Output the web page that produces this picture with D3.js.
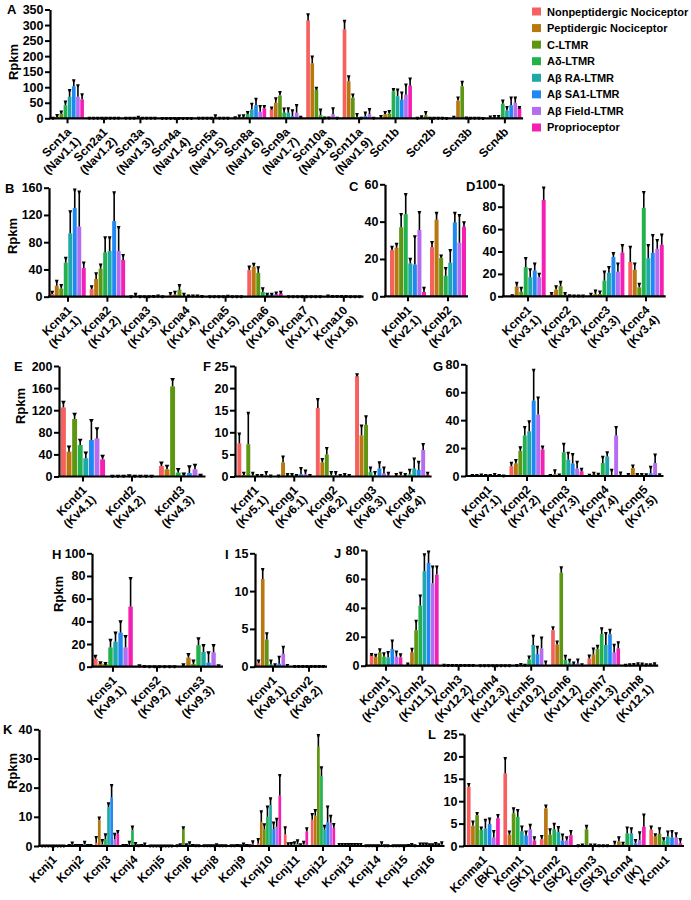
<!DOCTYPE html>
<html><head><meta charset="utf-8">
<script src="https://cdn.jsdelivr.net/npm/d3@7"></script>
<style>
body{margin:0;background:#fff;}
svg{display:block;font-family:"Liberation Sans",Arial,sans-serif;font-weight:bold;}
</style></head><body>
<svg id="chart" width="691" height="900"></svg>
<script>
const cellTypes = ["Nonpeptidergic Nociceptor","Peptidergic Nociceptor","C-LTMR","Aδ-LTMR","Aβ RA-LTMR","Aβ SA1-LTMR","Aβ Field-LTMR","Proprioceptor"];
const cellColors = ["#F6605E","#B8770F","#5E9613","#23B14D","#1EA8A8","#1F88F2","#B56CF0","#F41FB3"];

// Panel A – sodium channels
const aGenes = ["Scn1a","Scn2a1","Scn3a","Scn4a","Scn5a","Scn8a","Scn9a","Scn10a","Scn11a","Scn1b","Scn2b","Scn3b","Scn4b"];
const aAliases = ["(Nav1.1)","(Nav1.2)","(Nav1.3)","(Nav1.4)","(Nav1.5)","(Nav1.6)","(Nav1.7)","(Nav1.8)","(Nav1.9)","","","",""];
const aMeans = [[0.5,5,15,42,69,103,69,61],[1,1,1,1,1,1,1,1],[0.5,1,0.5,1,1,0.5,0.5,0.5],[0.3,0.3,0.3,0.3,0.3,0.3,0.3,0.3],[0.5,0.5,1,1,3,1,0.5,0.5],[1,3,4,13,28,42,21,32],[29,50,73,18,18,7,18,2],[315,177,92,10,0.5,1,13,1],[286,119,66,4,0.5,7,13,1],[1,13,15,87,71,60,76,105],[0.5,2,10,1,0.5,0.5,0.5,0.3],[0.5,57,103,1,1,0.5,0.5,0.3],[2,3,3,47,25,42,50,34]];
const aSem = [[0.5,5,6,11,21,19,37,16],[0.5,0.5,0.5,0.5,0.5,0.5,0.5,0.5],[0.3,0.5,0.3,3,0.5,0.3,0.3,0.3],[0.2,0.2,0.2,0.2,0.2,0.2,0.2,0.2],[0.3,0.3,0.5,0.5,6,0.5,0.3,0.3],[2,5,5,7,18,20,18,7],[5,14,11,13,14,18,24,2],[19,21,6,18,1.5,1,19,0.5],[27,16,10,9,0.5,11,16,0.5],[6,7,8,7,21,22,32,22],[0.3,4,10,0.5,0.3,0.3,0.3,0.3],[4,9,14,1,0.5,0.3,0.3,0.3],[3,4,4,10,11,24,16,2]];
const aTicks = [0,50,100,150,200,250,300,350];

// Panel B – Kv1
const bGenes = ["Kcna1","Kcna2","Kcna3","Kcna4","Kcna5","Kcna6","Kcna7","Kcna10"];
const bAliases = ["(Kv1.1)","(Kv1.2)","(Kv1.3)","(Kv1.4)","(Kv1.5)","(Kv1.6)","(Kv1.7)","(Kv1.8)"];
const bMeans = [[4,16,12,50,93,130,103,42],[11,26,41,65,67,111,67,54],[0.3,1,0.3,0.3,0.3,0.5,0.5,0.3],[2,3,10,1,1,1,1,0.5],[0.3,0.3,0.3,0.3,0.5,0.3,0.3,0.3],[39,44,35,7,3,3,4,5],[0.3,0.3,0.3,0.3,0.3,0.3,0.3,0.3],[1,0.5,0.5,0.5,0.5,0.3,0.3,0.3]];
const bSem = [[3,7,5,7,32,27,51,8],[4,8,6,22,20,42,35,7],[0.2,3,0.2,0.2,0.2,0.3,1,0.2],[3,4,7,3,0.5,0.5,0.5,0.3],[0.2,0.2,0.2,0.2,0.5,0.2,0.2,0.2],[5,4,8,5,1,1,2,2],[0.2,0.2,0.2,0.2,0.2,0.2,0.2,0.2],[0.5,0.3,0.3,0.3,0.3,0.2,0.2,0.2]];
const bTicks = [0,40,80,120,160];

// Panel C – Kv2
const cGenes = ["Kcnb1","Kcnb2"];
const cAliases = ["(Kv2.1)","(Kv2.2)"];
const cMeans = [[24.7,26,37,44,17.6,17,35.5,2.3],[26.3,41,20.6,11,18,39.6,28.7,37.3]];
const cSem = [[1.8,2,7,10.7,2.4,15,9.5,2.2],[2.7,3.6,1.1,4,6.7,5,14.8,2.3]];
const cTicks = [0,20,40,60];

// Panel D – Kv3
const dGenes = ["Kcnc1","Kcnc2","Kcnc3","Kcnc4"];
const dAliases = ["(Kv3.1)","(Kv3.2)","(Kv3.3)","(Kv3.4)"];
const dMeans = [[0.5,8.7,4,26,17,23,17,86],[2,6,9,1.5,0.5,0.3,0.3,0.3],[1,2,2,14,21,35,22,39],[30.7,23.6,8,79,34,38.8,42.4,46]];
const dSem = [[0.3,3.3,3.5,8,7,6,3,11],[0.7,2.7,3.8,1.2,0.3,0.2,0.2,0.2],[1,3,2,8,5,3.5,7,6.6],[13.3,5.4,3,14,11.6,15.8,7.6,9]];
const dTicks = [0,20,40,60,80,100];

// Panel E – Kv4
const eGenes = ["Kcnd1","Kcnd2","Kcnd3"];
const eAliases = ["(Kv4.1)","(Kv4.2)","(Kv4.3)"];
const eMeans = [[125,45,104,57,33,66,69,31],[0.5,0.5,0.5,1,0.5,0.5,0.5,0.5],[19,13,163,7,3,6,13,2]];
const eSem = [[10,9,9,9,10,36,18,6],[0.3,0.3,0.3,1,0.5,0.3,0.3,0.3],[6,6,13,6,2,12,8,1]];
const eTicks = [0,40,80,120,160,200];

// Panel F – Kv5/Kv6
const fGenes = ["Kcnf1","Kcng1","Kcng2","Kcng3","Kcng4"];
const fAliases = ["(Kv5.1)","(Kv6.1)","(Kv6.2)","(Kv6.3)","(Kv6.4)"];
const fMeans = [[7.5,0.3,7.3,0.2,0.2,0.2,0.3,0.1],[0.1,3.2,0.3,0.3,0.2,0.5,0.5,0.2],[15.5,3.2,5,0.3,0.3,0.2,0.3,0.2],[22.7,9.3,11.7,1,0.3,1.8,0.7,0.3],[0.3,0.3,0.3,0.5,1.8,1.5,6,0.4]];
const fSem = [[2.2,0.5,7.1,0.6,0.1,0.1,0.7,0.1],[0.1,1.3,0.2,0.2,0.1,1.4,0.8,0.1],[2,0.7,1.4,0.7,0.7,0.1,0.2,0.1],[0.4,2.2,1.9,1,0.7,1.4,1.3,0.5],[0.2,0.5,0.2,1,2.2,1.8,1.3,0.4]];
const fTicks = [0,5,10,15,20,25];

// Panel G – Kv7
const gGenes = ["Kcnq1","Kcnq2","Kcnq3","Kcnq4","Kcnq5"];
const gAliases = ["(Kv7.1)","(Kv7.2)","(Kv7.3)","(Kv7.4)","(Kv7.5)"];
const gMeans = [[0.3,0.3,0.5,0.3,0.3,0.5,0.3,0.2],[7,9,18,29,32,54,44,19],[0.3,1.2,0.5,17,11.7,9,5.3,3.4],[0.5,1.2,1,9.3,14,0.5,29,0.5],[1,5.7,1,1,0.8,2,9.3,0.8]];
const gSem = [[0.2,0.2,0.5,0.2,0.2,0.8,0.2,0.1],[2.3,2.3,2.4,6,7,22,12,2],[0.2,2.8,0.5,6,4.8,6.6,4.7,1.6],[0.3,1,0.5,4.4,2.8,3.8,6,1.9],[0.2,1.7,0.3,0.3,0.3,4.5,6,0.3]];
const gTicks = [0,20,40,60,80];

// Panel H – Kv9
const hGenes = ["Kcns1","Kcns2","Kcns3"];
const hAliases = ["(Kv9.1)","(Kv9.2)","(Kv9.3)"];
const hMeans = [[7,3,2.4,17,22,30,17,53],[0.5,0.3,0.2,0.2,0.2,0.2,0.2,0.2],[1,8,2.4,19,13,3.5,12.6,0.5]];
const hSem = [[2.4,0.8,0.6,6.5,8,10,10,25],[0.5,0.2,0.1,0.1,0.1,0.1,0.1,0.1],[1,3,2.9,6,6,9,6.4,0.5]];
const hTicks = [0,20,40,60,80,100];

// Panel I – Kv8
const iGenes = ["Kcnv1","Kcnv2"];
const iAliases = ["(Kv8.1)","(Kv8.2)"];
const iMeans = [[0.45,11.6,3.6,0.3,0.2,0.4,1.7,0.1],[0.05,0.05,0.05,0.05,0.05,0.05,0.05,0.05]];
const iSem = [[0.35,1.3,0.8,0.5,0.1,0.9,0.9,0.1],[0.03,0.03,0.03,0.03,0.03,0.03,0.03,0.03]];
const iTicks = [0,5,10,15];

// Panel J – Kv10-12
const jGenes = ["Kcnh1","Kcnh2","Kcnh3","Kcnh4","Kcnh5","Kcnh6","Kcnh7","Kcnh8"];
const jAliases = ["(Kv10.1)","(Kv11.1)","(Kv12.2)","(Kv12.3)","(Kv10.2)","(Kv11.2)","(Kv11.3)","(Kv12.1)"];
const jMeans = [[7.4,6.2,9.2,6.2,5.8,11.5,6.2,5.8],[1,9.2,24.6,41.5,65.4,71,57,63],[0.3,0.2,0.2,0.2,0.2,0.2,0.2,0.2],[0.1,0.1,0.1,0.1,0.1,0.1,0.1,0.1],[0.2,0.5,0.3,4.4,14.3,8,12,0.3],[24.6,14.7,64.3,3.9,2,1.2,1.6,0.5],[5,7.8,11.5,21.9,14.3,21.7,9.2,12],[0.3,0.5,0.5,1,0.8,0.5,0.5,0.8]];
const jSem = [[0.6,1.2,2.1,2.3,3.6,5.8,3.5,2],[0.3,2.3,6.4,6.9,11.6,7.8,11.4,5.4],[0.3,0.1,0.1,0.1,0.1,0.1,0.1,0.1],[0.05,0.05,0.05,0.05,0.05,0.05,0.05,0.05],[0.1,0.5,0.2,1.8,6.2,5,7.4,2.4],[1.9,1.9,3.7,2.8,1.9,0.8,2.5,0.4],[2,3.9,2.1,3.9,8.1,3,5.1,4.1],[0.2,0.3,0.5,0.5,0.5,0.3,0.3,0.7]];
const jTicks = [0,20,40,60,80];

// Panel K – Kir
const kGenes = ["Kcnj1","Kcnj2","Kcnj3","Kcnj4","Kcnj5","Kcnj6","Kcnj8","Kcnj9","Kcnj10","Kcnj11","Kcnj12","Kcnj13","Kcnj14","Kcnj15","Kcnj16"];
const kAliases = ["","","","","","","","","","","","","","",""];
const kMeans = [[0.05,0.05,0.05,0.05,0.05,0.05,0.05,0.05],[0.2,0.5,0.2,0.2,0.2,0.6,0.2,0.2],[1.1,8.9,0.6,2.3,13.3,16.6,2.3,4.2],[0.2,0.2,0.3,5.4,0.3,0.1,0.2,0.3],[0.05,0.05,0.05,0.05,0.05,0.05,0.05,0.05],[0.1,0.3,5.8,0.3,0.8,0.2,0.1,0.1],[0.1,0.1,0.1,0.1,0.3,0.1,0.1,0.1],[0.1,0.1,0.2,0.1,0.5,0.2,0.1,0.8],[0.9,8.3,5.7,10,14,5.8,6.6,17.3],[4,0.3,0.3,0.5,0.7,0.3,0.5,5],[9,10.4,34,24,5.6,8.2,8,6.2],[0.4,0.4,0.4,0.4,0.4,0.4,0.4,0.4],[0.1,0.1,0.1,0.1,0.1,0.3,0.1,0.1],[0.1,0.1,0.1,0.1,0.1,0.2,0.3,0.1],[0.5,0.5,0.5,0.3,0.3,0.5,0.3,0.5]];
const kSem = [[0.03,0.03,0.03,0.03,0.03,0.03,0.03,0.03],[0.1,0.6,0.1,0.1,0.1,0.8,0.1,0.1],[1.9,0.8,1.4,1.7,1.3,4.2,1.8,0.9],[0.1,0.1,1.1,1.2,0.7,0.1,0.1,0.5],[0.03,0.03,0.03,0.03,0.03,0.03,0.03,0.03],[0.1,0.2,0.6,0.2,0.4,0.1,0.1,0.1],[0.05,0.05,0.05,0.05,0.2,0.05,0.05,0.05],[0.05,0.05,0.1,0.05,0.3,0.1,0.05,0.8],[1.4,3.5,1.7,3.5,2.3,2.2,2.7,7],[2.4,0.6,0.7,0.7,1.2,0.2,0.9,1],[1.9,1.9,4,2.9,1.3,5.3,2.3,1.3],[0.2,0.2,0.2,0.2,0.2,0.2,0.2,0.2],[0.05,0.05,0.05,0.05,0.05,0.9,0.05,0.05],[0.05,0.05,0.05,0.05,0.05,0.1,0.3,0.05],[0.3,0.3,0.3,0.2,0.2,0.5,0.2,0.7]];
const kTicks = [0,10,20,30,40];

// Panel L – KCa
const lGenes = ["Kcnma1","Kcnn1","Kcnn2","Kcnn3","Kcnn4","Kcnu1"];
const lAliases = ["(BK)","(SK1)","(SK2)","(SK3)","(IK)",""];
const lMeans = [[13.2,4.5,6.9,3.6,3.9,4.9,1.9,6.2],[16.2,2.5,7.3,6.5,3.3,2.3,3.7,1.2],[1.5,8.4,2.5,3.7,3.1,1.2,1.2,2.4],[0.1,0.2,3.7,0.2,0.2,0.1,0.1,0.1],[0.3,1,0.4,2.8,2.8,0.6,1.3,4.3],[3.6,2.2,2.7,1.2,2.1,1.9,1.9,0.6]];
const lSem = [[0.6,0.9,0.4,0.5,1.9,1.2,1.4,0.7],[3.4,0.7,1.1,1.5,1,0.9,1,0.7],[0.7,0.6,1.2,1.2,1.1,1.3,0.7,0.9],[0.05,0.1,0.8,0.1,0.1,0.05,0.05,0.05],[0.6,0.9,0.3,1.3,1.1,0.7,1.7,2.7],[0.7,0.4,1.2,0.5,1.1,1.4,0.9,0.9]];
const lTicks = [0,5,10,15,20,25];

const svg = d3.select("#chart");

const panels = [
  {id:"A", genes:aGenes, aliases:aAliases, means:aMeans, sem:aSem, ticks:aTicks, ax:50, x0:49.3, x1:523.1, top:9.5, bottom:118.3, lx:7, ly:14, yl:{x:13, y:62}},
  {id:"B", genes:bGenes, aliases:bAliases, means:bMeans, sem:bSem, ticks:bTicks, ax:49, x0:48.3, x1:363.5, top:187.7, bottom:296.7, lx:5, ly:193, yl:{x:12, y:236}},
  {id:"C", genes:cGenes, aliases:cAliases, means:cMeans, sem:cSem, ticks:cTicks, ax:385, x0:388, x1:468, top:184.3, bottom:296.3, lx:349, ly:191, yl:null},
  {id:"D", genes:dGenes, aliases:dAliases, means:dMeans, sem:dSem, ticks:dTicks, ax:503, x0:508.3, x1:665.7, top:184.3, bottom:296.3, lx:466, ly:191, yl:null},
  {id:"E", genes:eGenes, aliases:eAliases, means:eMeans, sem:eSem, ticks:eTicks, ax:59, x0:58.5, x1:205.5, top:366, bottom:476.5, lx:14, ly:371, yl:{x:20, y:406}},
  {id:"F", genes:fGenes, aliases:fAliases, means:fMeans, sem:fSem, ticks:fTicks, ax:235, x0:235.4, x1:431.6, top:366, bottom:476.5, lx:203, ly:371, yl:null},
  {id:"G", genes:gGenes, aliases:gAliases, means:gMeans, sem:gSem, ticks:gTicks, ax:466, x0:468.5, x1:663.5, top:364.3, bottom:476, lx:433, ly:371, yl:null},
  {id:"H", genes:hGenes, aliases:hAliases, means:hMeans, sem:hSem, ticks:hTicks, ax:92, x0:91, x1:223, top:553.3, bottom:666.7, lx:52, ly:559, yl:{x:58, y:594}},
  {id:"I", genes:iGenes, aliases:iAliases, means:iMeans, sem:iSem, ticks:iTicks, ax:255, x0:255, x1:327, top:553.3, bottom:666.7, lx:225, ly:559, yl:null},
  {id:"J", genes:jGenes, aliases:jAliases, means:jMeans, sem:jSem, ticks:jTicks, ax:366, x0:367.9, x1:658.2, top:550, bottom:665.7, lx:334, ly:558, yl:null},
  {id:"K", genes:kGenes, aliases:kAliases, means:kMeans, sem:kSem, ticks:kTicks, ax:39, x0:39.5, x1:444.5, top:729.3, bottom:846, lx:3, ly:734, yl:{x:12, y:771}},
  {id:"L", genes:lGenes, aliases:lAliases, means:lMeans, sem:lSem, ticks:lTicks, ax:464, x0:465.1, x1:684, top:734, bottom:846, lx:428, ly:739, yl:null}
];

function drawPanel(p) {
  const g = svg.append("g").attr("class", "panel-" + p.id);
  const x = d3.scaleBand().domain(p.genes).range([p.x0, p.x1]).paddingInner(0.1).paddingOuter(0.05);
  const xi = d3.scaleBand().domain(d3.range(cellTypes.length)).range([0, x.bandwidth()]).paddingInner(0.12);
  const y = d3.scaleLinear().domain([0, p.ticks[p.ticks.length - 1]]).range([p.bottom, p.top]);
  const bw = xi.bandwidth();

  const grp = g.selectAll("g.grp").data(p.genes).join("g")
    .attr("class", "grp")
    .attr("transform", d => `translate(${x(d)},0)`);

  grp.each(function(gene, gi) {
    const rows = p.means[gi].map((v, j) => ({v, e: p.sem[gi][j], j}));
    const sel = d3.select(this);
    sel.selectAll("rect").data(rows).join("rect")
      .attr("x", d => xi(d.j))
      .attr("y", d => y(d.v))
      .attr("width", bw)
      .attr("height", d => y(0) - y(d.v))
      .attr("fill", d => cellColors[d.j]);
    sel.selectAll("line.err").data(rows).join("line")
      .attr("class", "err")
      .attr("x1", d => xi(d.j) + bw / 2).attr("x2", d => xi(d.j) + bw / 2)
      .attr("y1", d => y(d.v)).attr("y2", d => y(d.v + d.e) + 1)
      .attr("stroke", "#000").attr("stroke-width", 1.6);
    const cw = Math.max(3.6, bw * 0.95);
    sel.selectAll("path.cap").data(rows).join("path")
      .attr("class", "cap")
      .attr("d", d => {
        const cx = xi(d.j) + bw / 2, yt = y(d.v + d.e);
        return `M${cx - cw / 2},${yt - 1.2}h${cw}L${cx + 0.8},${yt + 1.8}h-1.6Z`;
      })
      .attr("fill", "#000");
  });

  // y axis
  const ya = g.append("g").attr("transform", `translate(${p.ax},0)`)
    .call(d3.axisLeft(y).tickValues(p.ticks).tickSize(5).tickSizeOuter(0).tickPadding(1.5));
  ya.select(".domain").attr("stroke-width", 2.2);
  ya.selectAll(".tick line").attr("stroke-width", 2);
  ya.selectAll(".tick text").attr("font-size", 12.5).attr("font-weight", "bold")
    .attr("font-family", '"Liberation Sans",Arial,sans-serif').attr("fill", "#000");

  // x axis
  const xa = g.append("g").attr("transform", `translate(0,${y(0)})`)
    .call(d3.axisBottom(x).tickSize(5).tickSizeOuter(0).tickFormat(""));
  xa.select(".domain").remove();
  xa.selectAll(".tick line").attr("stroke-width", 2);
  xa.append("line").attr("x1", p.ax - 1).attr("x2", p.x1).attr("y1", 0).attr("y2", 0)
    .attr("stroke", "#000").attr("stroke-width", 2.2);

  // x labels
  p.genes.forEach((gene, i) => {
    const cx = x(gene) + x.bandwidth() / 2;
    const t = g.append("text")
      .attr("transform", `translate(${cx - 2},${y(0) + 8}) rotate(-45)`)
      .attr("text-anchor", "end").attr("font-size", 12).attr("fill", "#000");
    t.append("tspan").attr("x", 0).attr("dy", "0.75em").text(gene);
    if (p.aliases[i]) t.append("tspan").attr("x", 0).attr("dy", "1.1em").text(p.aliases[i]);
  });

  // panel letter
  g.append("text").attr("x", p.lx).attr("y", p.ly).attr("font-size", 13).text(p.id);

  // y label
  if (p.yl) {
    g.append("text").attr("transform", `translate(${p.yl.x},${p.yl.y}) rotate(-90)`)
      .attr("text-anchor", "middle").attr("dy", "0.35em").attr("font-size", 13).text("Rpkm");
  }
}

panels.forEach(drawPanel);

// legend
const leg = svg.append("g").attr("class", "legend");
cellTypes.forEach((name, i) => {
  const cy = 11.5 + i * 16.57;
  leg.append("rect").attr("x", 532).attr("y", cy - 4).attr("width", 9).attr("height", 8).attr("fill", cellColors[i]);
  leg.append("text").attr("x", 547).attr("y", cy + 4).attr("font-size", 11).text(name);
});
</script>
</body></html>
